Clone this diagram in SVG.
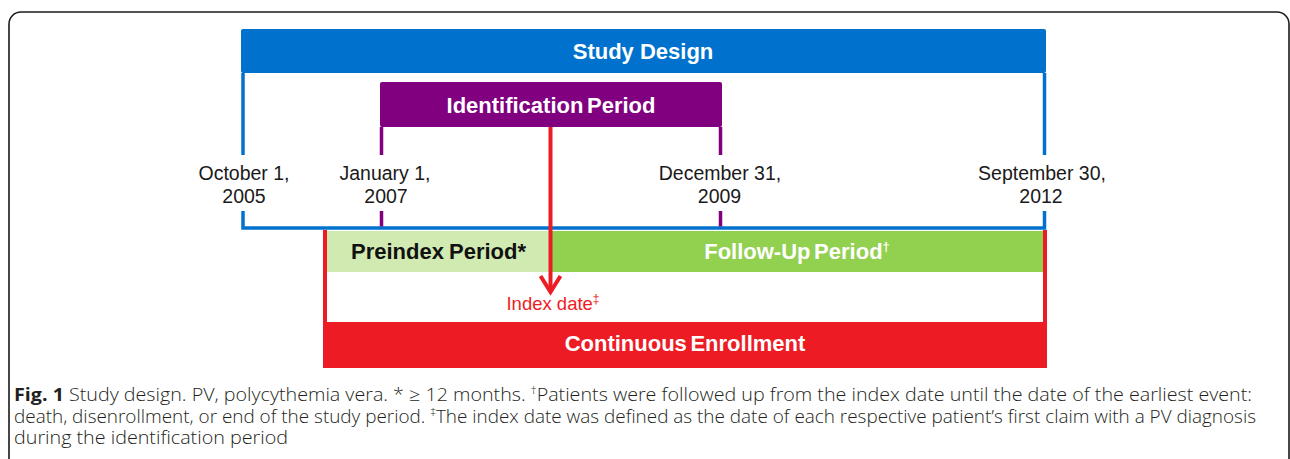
<svg xmlns="http://www.w3.org/2000/svg" width="1290" height="459" viewBox="0 0 1290 459">
  <style>
    .lbl { font-family: "Liberation Sans", Arial, sans-serif; font-weight: bold; font-size: 22px; word-spacing: -2.5px; text-anchor: middle; }
    .date { font-family: "Liberation Sans", Arial, sans-serif; font-size: 19.5px; fill: #1a1a1a; text-anchor: middle; }
    .cap { font-family: "Open Sans", "Noto Sans", sans-serif; font-size: 18px; font-weight: 300; fill: #231f20; }
    .sup { font-size: 11px; baseline-shift: 7px; }
    .blue { stroke: #0072ce; stroke-width: 3.5; fill: none; }
    .purple { stroke: #800080; stroke-width: 3.5; fill: none; }
    .red { stroke: #ed1c24; stroke-width: 4; fill: none; }
  </style>
  <defs>
    <marker id="vhead" markerUnits="userSpaceOnUse" markerWidth="30" markerHeight="30" viewBox="-20 -15 25 30" refX="0" refY="0" orient="auto">
      <path d="M-16,-10 L0,0 L-16,10" fill="none" stroke="#ed1c24" stroke-width="4" stroke-linejoin="miter"/>
    </marker>
  </defs>
  <rect width="1290" height="459" fill="#ffffff"/>

  <g id="frame">
    <path d="M9,459 V24 A12,12 0 0 1 21,12 H1277 A12,12 0 0 1 1289,24 V459" fill="none" stroke="#1a1a1a" stroke-width="1.6"/>
  </g>

  <g id="study-design">
    <rect x="241" y="29" width="805" height="44" rx="2" fill="#0072ce"/>
    <path class="blue" d="M243,73 V155 M1044.5,73 V155 M243,211 V228 H1044.5 V211"/>
    <text class="lbl" x="643" y="59" fill="#ffffff" style="word-spacing:0">Study Design</text>
  </g>

  <g id="identification-period">
    <rect x="380" y="82" width="342" height="45" rx="2" fill="#800080"/>
    <path class="purple" d="M381.5,127 V155 M720.5,127 V155 M381.5,211 V226.5 M720.5,211 V226.5"/>
    <text class="lbl" x="551" y="112.5" fill="#ffffff">Identification Period</text>
  </g>

  <g id="dates">
    <text class="date" x="244" y="180">October 1,<tspan x="244" y="203">2005</tspan></text>
    <text class="date" x="385" y="180">January 1,<tspan x="386" y="203">2007</tspan></text>
    <text class="date" x="720" y="180">December 31,<tspan x="719.5" y="203">2009</tspan></text>
    <text class="date" x="1042" y="180">September 30,<tspan x="1041" y="203">2012</tspan></text>
  </g>

  <g id="continuous-enrollment">
    <path class="red" d="M325,230 V366 H1045 V230"/>
    <rect x="323" y="322" width="724" height="44" rx="1.5" fill="#ed1c24"/>
    <text class="lbl" x="685" y="351" fill="#ffffff">Continuous Enrollment</text>
  </g>

  <g id="preindex-period">
    <rect x="327" y="231" width="223" height="41" fill="#d1eab2"/>
    <text class="lbl" x="438.5" y="258.5" fill="#111111" style="word-spacing:-1px">Preindex Period*</text>
  </g>

  <g id="follow-up-period">
    <rect x="550" y="231" width="493" height="41" fill="#92d050"/>
    <text class="lbl" x="797" y="259" fill="#ffffff">Follow-Up Period<tspan font-size="13" baseline-shift="8px">†</tspan></text>
  </g>

  <g id="connectors">
    <path d="M550.5,127 V292" fill="none" stroke="#ed1c24" stroke-width="4" marker-end="url(#vhead)"/>
  </g>

  <g id="index-date">
    <text x="553" y="310" font-family="'Liberation Sans', Arial, sans-serif" font-size="18.5" fill="#ee1c25" text-anchor="middle">Index date<tspan font-size="12" baseline-shift="7px">‡</tspan></text>
  </g>

  <g id="caption">
    <text class="cap" x="14" y="401" textLength="1238" lengthAdjust="spacingAndGlyphs"><tspan font-weight="bold">Fig. 1</tspan> Study design. PV, polycythemia vera. * ≥ 12 months. <tspan class="sup">†</tspan>Patients were followed up from the index date until the date of the earliest event:</text>
    <text class="cap" x="14" y="423" textLength="1242" lengthAdjust="spacingAndGlyphs">death, disenrollment, or end of the study period. <tspan class="sup">‡</tspan>The index date was defined as the date of each respective patient’s first claim with a PV diagnosis</text>
    <text class="cap" x="14" y="444" textLength="274" lengthAdjust="spacingAndGlyphs">during the identification period</text>
  </g>
</svg>
